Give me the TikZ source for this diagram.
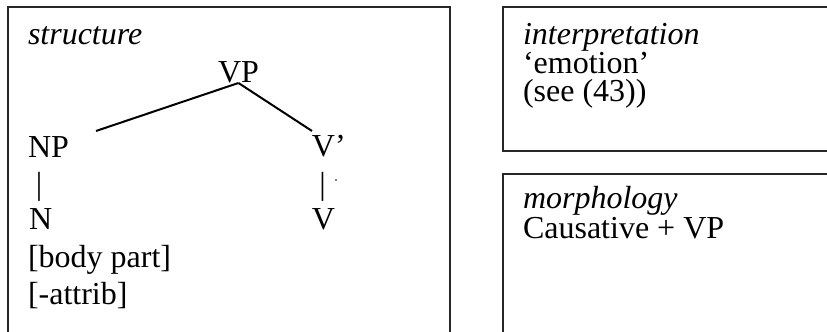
\documentclass[tikz,border=0pt]{standalone}
\usepackage{fontspec}
\setmainfont{Liberation Serif}
\usepackage{tikz}
\usetikzlibrary{positioning}

\begin{document}
\begin{tikzpicture}[
    x=0.375pt, y=-0.375pt,
    every node/.style={inner sep=0pt, outer sep=0pt, font=\fontsize{12pt}{14pt}\selectfont},
    word/.style={anchor=base west},
    bar/.style={anchor=base},
    frame/.style={draw=black!85, line width=0.75pt},
    branch/.style={line width=0.75pt},
  ]
  \useasboundingbox (0,0) rectangle (827,332);
  \clip (0,0) rectangle (827,332);

  % frames
  \draw[frame] (8,340) -- (8,7.5) -- (450,7.5) -- (450,340);
  \draw[frame] (503,7.5) rectangle (840,151);
  \draw[frame] (503,174) rectangle (840,345);

  % structure
  \node[word] (title) at (28,45)  {\textit{structure}};
  \node[word] (VP)    at (218,83) {VP};
  \node[word] (NP)    at (28,158) {NP};
  \node[word] (Vbar)  at (312,157) {V’};
  \node[bar]  (NPbar) at (39,195)  {|};
  \node[bar]  (Vline) at (322.7,195) {|};
  \node[circle, fill, minimum size=0.6pt] (speck) at (336,180) {};
  \node[word] (N)     at (29,230)  {N};
  \node[word] (V)     at (312,230) {V};
  \node[word] (body)  at (28,268)  {[body part]};
  \node[word] (attr)  at (28,305)  {[-attrib]};

  \coordinate (NPtop)   at (96,131);
  \coordinate (Vbartop) at (312,131);
  \draw[branch] (VP.base) -- (NPtop);
  \draw[branch] (VP.base) -- (Vbartop);

  % interpretation
  \node[word] (interp) at (523,45)  {\textit{interpretation}};
  \node[word] (emo)    at (523,74)  {‘emotion’};
  \node[word] (see)    at (523,102) {(see (43))};

  % morphology
  \node[word] (morph)  at (523,209) {\textit{morphology}};
  \node[word] (caus)   at (523,239) {Causative + VP};
\end{tikzpicture}
\end{document}
